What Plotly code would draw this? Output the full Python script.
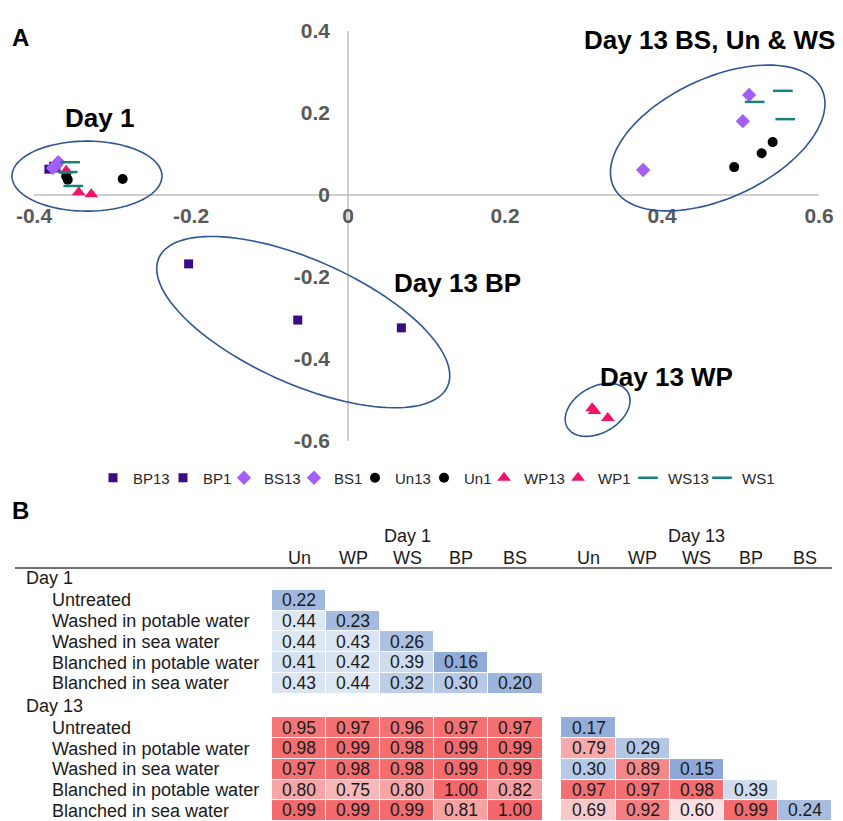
import numpy as np
import plotly.graph_objects as go

W, H = 843, 821
FONT = "Liberation Sans, Arial, sans-serif"

# ---------------- Panel A: PCoA scores ----------------
bp13_x = [-0.203, -0.064, 0.068]
bp13_y = [-0.168, -0.305, -0.324]
bp1_x = [-0.381, -0.375, -0.372]
bp1_y = [0.063, 0.070, 0.066]
bs13_x = [0.511, 0.503, 0.376]
bs13_y = [0.244, 0.180, 0.061]
bs1_x = [-0.376, -0.369, -0.372]
bs1_y = [0.066, 0.080, 0.072]
un13_x = [0.492, 0.527, 0.541]
un13_y = [0.068, 0.102, 0.129]
un1_x = [-0.357, -0.287, -0.359]
un1_y = [0.037, 0.039, 0.046]
wp13_x = [0.311, 0.314, 0.331]
wp13_y = [-0.520, -0.527, -0.544]
wp1_x = [-0.359, -0.343, -0.327]
wp1_y = [0.059, 0.007, 0.002]
ws13_x = [0.518, 0.554, 0.557]
ws13_y = [0.227, 0.254, 0.185]
ws1_x = [-0.354, -0.357, -0.350]
ws1_y = [0.080, 0.056, 0.022]

tick_vals_x = [-0.4, -0.2, 0, 0.2, 0.4, 0.6]
tick_text_x = ["-0.4", "-0.2", "0", "0.2", "0.4", "0.6"]
tick_vals_y = [-0.6, -0.4, -0.2, 0, 0.2, 0.4]
tick_text_y = ["-0.6", "-0.4", "-0.2", "0", "0.2", "0.4"]

# ---------------- Panel B: distance table ----------------
treatments = ["Untreated", "Washed in potable water", "Washed in sea water",
              "Blanched in potable water", "Blanched in sea water"]
abbrev = ["Un", "WP", "WS", "BP", "BS"]
day1_vs_day1 = [[0.22],
                [0.44, 0.23],
                [0.44, 0.43, 0.26],
                [0.41, 0.42, 0.39, 0.16],
                [0.43, 0.44, 0.32, 0.30, 0.20]]
day13_vs_day1 = [[0.95, 0.97, 0.96, 0.97, 0.97],
                 [0.98, 0.99, 0.98, 0.99, 0.99],
                 [0.97, 0.98, 0.98, 0.99, 0.99],
                 [0.80, 0.75, 0.80, 1.00, 0.82],
                 [0.99, 0.99, 0.99, 0.81, 1.00]]
day13_vs_day13 = [[0.17],
                  [0.79, 0.29],
                  [0.30, 0.89, 0.15],
                  [0.97, 0.97, 0.98, 0.39],
                  [0.69, 0.92, 0.60, 0.99, 0.24]]

# ---------------- geometry ----------------
X_DOM = [0.0, 1.0]
X_RANGE = [-0.4433, 0.6306]
Y_DOM = [1 - 460 / H, 1 - 20 / H]
Y_RANGE = [-0.6463, 0.4268]

def paper_y_of(v):
    return Y_DOM[0] + (v - Y_RANGE[0]) / (Y_RANGE[1] - Y_RANGE[0]) * (Y_DOM[1] - Y_DOM[0])

def paper_x_of(v):
    return X_DOM[0] + (v - X_RANGE[0]) / (X_RANGE[1] - X_RANGE[0]) * (X_DOM[1] - X_DOM[0])

# pixels per data unit, used to draw ellipses that look right on screen
SX = W * (X_DOM[1] - X_DOM[0]) / (X_RANGE[1] - X_RANGE[0])
SY = H * (Y_DOM[1] - Y_DOM[0]) / (Y_RANGE[1] - Y_RANGE[0])

def ellipse_path(cx, cy, a_px, b_px, angle_deg, n=120):
    t = np.linspace(0, 2 * np.pi, n)
    th = np.deg2rad(angle_deg)
    ex = a_px * np.cos(t)
    ey = b_px * np.sin(t)
    rx = ex * np.cos(th) - ey * np.sin(th)
    ry = ex * np.sin(th) + ey * np.cos(th)
    xs = cx + rx / SX
    ys = cy + ry / SY
    pts = [f"{x:.5f},{y:.5f}" for x, y in zip(xs, ys)]
    return "M " + " L ".join(pts) + " Z"

fig = go.Figure()

SQ = dict(symbol="square", size=9, color="#3b0b84")
DI = dict(symbol="diamond", size=11, color="#a45ef5")
CI = dict(symbol="circle", size=10, color="#000000")
TR = dict(symbol="triangle-up", size=12, color="#f0146a")
DA = dict(symbol="line-ew", size=14, color="#16807a", line=dict(width=2.5, color="#16807a"))

# (name, x, y, marker, legend entry width in px)
series = [
    ("BP13", bp13_x, bp13_y, SQ, 25),
    ("BP1", bp1_x, bp1_y, SQ, 16),
    ("BS13", bs13_x, bs13_y, DI, 25),
    ("BS1", bs1_x, bs1_y, DI, 16),
    ("Un13", un13_x, un13_y, CI, 24),
    ("Un1", un1_x, un1_y, CI, 15),
    ("WP13", wp13_x, wp13_y, TR, 29),
    ("WP1", wp1_x, wp1_y, TR, 25),
    ("WS13", ws13_x, ws13_y, DA, 29),
    ("WS1", ws1_x, ws1_y, DA, 33),
]
for name, xs, ys, mk, lw in series:
    fig.add_trace(go.Scatter(x=xs, y=ys, mode="markers", name=name, marker=mk,
                             legendwidth=lw, xaxis="x", yaxis="y", cliponaxis=False))

# ---------------- heatmap table ----------------
ncol = 11
nrow = 11
z = [[None] * ncol for _ in range(nrow)]
txt = [[""] * ncol for _ in range(nrow)]
for i, row in enumerate(day1_vs_day1):
    for j, v in enumerate(row):
        z[i][j] = v
        txt[i][j] = f"{v:.2f}"
for i, row in enumerate(day13_vs_day1):
    for j, v in enumerate(row):
        z[6 + i][j] = v
        txt[6 + i][j] = f"{v:.2f}"
for i, row in enumerate(day13_vs_day13):
    for j, v in enumerate(row):
        z[6 + i][6 + j] = v
        txt[6 + i][6 + j] = f"{v:.2f}"

COL_GAP = 0.35
ROW_GAP = 1.15
x_edges = [0, 1, 2, 3, 4, 5, 5 + COL_GAP] + [5 + COL_GAP + k for k in range(1, 6)]
y_edges = [0, 1, 2, 3, 4, 5, 5 + ROW_GAP] + [5 + ROW_GAP + k for k in range(1, 6)]

ZMIN, ZMAX = 0.15, 1.0
def nz(v):
    return (v - ZMIN) / (ZMAX - ZMIN)

colorscale = [
    [0.0, "#8ea9d7"],
    [nz(0.30), "#b7c9e6"],
    [nz(0.44), "#dde6f3"],
    [nz(0.55), "#fbf1f3"],
    [nz(0.60), "#fbdfe1"],
    [nz(0.75), "#f8b8ba"],
    [nz(0.85), "#f69294"],
    [1.0, "#f4686b"],
]

fig.add_trace(go.Heatmap(
    z=z, x=x_edges, y=y_edges, text=txt, texttemplate="%{text}",
    textfont=dict(size=17.5, color="#1a1a1a", family=FONT),
    colorscale=colorscale, zmin=ZMIN, zmax=ZMAX, showscale=False,
    xgap=1, ygap=1, hoverinfo="skip", xaxis="x2", yaxis="y2", showlegend=False,
))

X2_DOM = [272 / W, 832 / W]
X2_RANGE = [0, 5 + COL_GAP + 5]
Y2_TOP_PX = 566.2
Y2_DOM = [0.0, 1 - Y2_TOP_PX / H]
Y2_RANGE = [5 + ROW_GAP + 5, -1.15]

annotations = []
shapes = []

# axis cross lines
shapes.append(dict(type="line", xref="x", yref="y", x0=-0.4, x1=0.6, y0=0, y1=0,
                   line=dict(color="#bfbfbf", width=1.5), layer="below"))
shapes.append(dict(type="line", xref="x", yref="y", x0=0, x1=0, y0=-0.6, y1=0.4,
                   line=dict(color="#bfbfbf", width=1.5), layer="below"))

# group ellipses (center in data units, semi-axes in pixels, rotation in degrees)
ellipses = [
    (-0.3325, 0.046, 75, 35, 0),
    (0.471, 0.139, 115, 60, 25),
    (-0.057, -0.310, 158, 62, -24),
    (0.318, -0.524, 35, 23, 30),
]
for cx, cy, a, b, ang in ellipses:
    shapes.append(dict(type="path", xref="x", yref="y", path=ellipse_path(cx, cy, a, b, ang),
                       line=dict(color="#2f5597", width=1.6), fillcolor="rgba(0,0,0,0)"))

group_labels = [
    ("Day 1", -0.316, 0.188),
    ("Day 13 BS, Un & WS", 0.46, 0.378),
    ("Day 13 BP", 0.139, -0.215),
    ("Day 13 WP", 0.406, -0.444),
]
for t, x, y in group_labels:
    annotations.append(dict(text=f"<b>{t}</b>", x=x, y=y, xref="x", yref="y",
                            showarrow=False, font=dict(size=26, color="#000000", family=FONT)))

annotations.append(dict(text="<b>A</b>", x=10 / W, y=1 - 22 / H, xref="paper", yref="paper",
                        xanchor="left", showarrow=False, font=dict(size=24, color="#000", family=FONT)))
annotations.append(dict(text="<b>B</b>", x=10 / W, y=1 - 510 / H, xref="paper", yref="paper",
                        xanchor="left", showarrow=False, font=dict(size=24, color="#000", family=FONT)))

# table headers
TXT = dict(size=18, color="#1a1a1a", family=FONT)
HEAD_Y = 1 - 558 / H
DAY_Y = 1 - 536 / H
for k, ab in enumerate(abbrev):
    annotations.append(dict(text=ab, x=k + 0.5, y=HEAD_Y, xref="x2", yref="paper",
                            yanchor="middle", showarrow=False, font=TXT))
    annotations.append(dict(text=ab, x=5 + COL_GAP + k + 0.5, y=HEAD_Y, xref="x2",
                            yref="paper", yanchor="middle", showarrow=False, font=TXT))
annotations.append(dict(text="Day 1", x=2.5, y=DAY_Y, xref="x2", yref="paper",
                        yanchor="middle", showarrow=False, font=TXT))
annotations.append(dict(text="Day 13", x=5 + COL_GAP + 2.5, y=DAY_Y, xref="x2",
                        yref="paper", yanchor="middle", showarrow=False, font=TXT))
shapes.append(dict(type="line", xref="paper", yref="paper", x0=15 / W, x1=832 / W,
                   y0=1 - 568 / H, y1=1 - 568 / H, line=dict(color="#404040", width=1.5)))

# row labels
annotations.append(dict(text="Day 1", x=24 / W, y=-0.58, xref="paper", yref="y2",
                        xanchor="left", showarrow=False, font=TXT))
annotations.append(dict(text="Day 13", x=24 / W, y=5 + ROW_GAP / 2, xref="paper", yref="y2",
                        xanchor="left", showarrow=False, font=TXT))
for i, lab in enumerate(treatments):
    annotations.append(dict(text=lab, x=50 / W, y=i + 0.5, xref="paper", yref="y2",
                            xanchor="left", showarrow=False, font=TXT))
    annotations.append(dict(text=lab, x=50 / W, y=5 + ROW_GAP + i + 0.5, xref="paper",
                            yref="y2", xanchor="left", showarrow=False, font=TXT))

TICKFONT = dict(size=21, color="#595959", family=FONT, weight="bold")

fig.update_layout(
    width=W, height=H,
    margin=dict(l=0, r=0, t=0, b=0),
    paper_bgcolor="white", plot_bgcolor="rgba(0,0,0,0)",
    font=dict(family=FONT),
    xaxis=dict(domain=X_DOM, range=X_RANGE, anchor="free", position=paper_y_of(0),
               showgrid=False, zeroline=False, showline=False, ticks="",
               tickvals=tick_vals_x, ticktext=tick_text_x, tickfont=TICKFONT,
               ticklabelstandoff=6),
    yaxis=dict(domain=Y_DOM, range=Y_RANGE, anchor="free", position=paper_x_of(0),
               showgrid=False, zeroline=False, showline=False, ticks="",
               tickvals=tick_vals_y, ticktext=tick_text_y, tickfont=TICKFONT,
               ticklabelstandoff=18),
    xaxis2=dict(domain=X2_DOM, range=X2_RANGE, anchor="y2", visible=False),
    yaxis2=dict(domain=Y2_DOM, range=Y2_RANGE, anchor="x2", visible=False),
    legend=dict(orientation="h", x=93 / W, xanchor="left", y=1 - 478 / H, yanchor="middle",
                font=dict(size=15, color="#262626", family=FONT), bgcolor="rgba(0,0,0,0)",
                itemclick=False),
    shapes=shapes,
    annotations=annotations,
)

fig.write_html("out.html")
